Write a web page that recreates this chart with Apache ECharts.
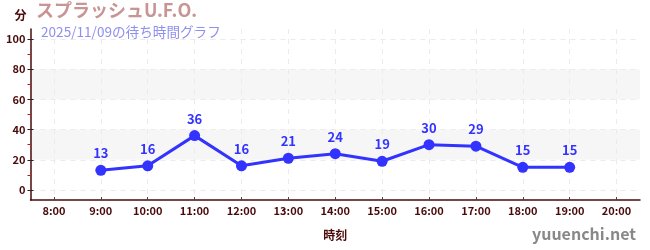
<!DOCTYPE html>
<html><head><meta charset="utf-8">
<script src="https://cdn.jsdelivr.net/npm/echarts@6/dist/echarts.min.js"></script>
<style>html,body{margin:0;padding:0;background:#fff}#c{width:650px;height:250px}</style>
</head><body><div id="c"></div>
<script>
const hours = ['8:00','9:00','10:00','11:00','12:00','13:00','14:00','15:00','16:00','17:00','18:00','19:00','20:00'];
const waits = [null,13,16,36,16,21,24,19,30,29,15,15,null];
const yMajor = [0,20,40,60,80,100];
const yMinor = [10,30,50,70,90];
const titleText = 'スプラッシュU.F.O.';
const subText = '2025/11/09の待ち時間グラフ';

const F = '"Noto Sans CJK JP", "Noto Sans", sans-serif';
const dark = '#4a0a0a';
const idx = hours.map((h,i)=>i);
const data = waits.map((v,i)=>[i,v]);
const xMin = -0.5, xMax = hours.length - 0.5;

const chart = echarts.init(document.getElementById('c'), null, {renderer:'canvas'});
const yBase = {type:'value', min:-20/3, max:320/3, position:'left', offset:0};
chart.setOption({
  animation:false,
  title:[
    {text:titleText, left:36, top:1, padding:0, textStyle:{fontFamily:F, fontSize:18, fontWeight:'bold', color:'#c89494'}},
    {text:subText, left:41, top:25, padding:0, textStyle:{fontFamily:F, fontSize:13.6, fontWeight:'normal', color:'#8f8ff0'}}
  ],
  graphic:[{type:'text', right:14, bottom:8, style:{text:'yuuenchi.net', fontFamily:F, fontSize:16, fill:'#888', fontWeight:'bold'}}],
  grid:{left:30.5, right:10, top:29, bottom:50},
  xAxis:{
    type:'value', min:xMin, max:xMax,
    name:'時刻', nameLocation:'middle', nameGap:29,
    nameTextStyle:{fontFamily:F, fontSize:12, fontWeight:'bold', color:dark},
    axisLine:{onZero:false, lineStyle:{color:dark, width:1.5}},
    axisTick:{show:true, customValues:idx, inside:true, length:3, lineStyle:{color:'#444'}},
    axisLabel:{customValues:idx, formatter:v=>hours[v], fontFamily:F, fontSize:11, fontWeight:'bold', color:dark, margin:5},
    splitLine:{show:true, lineStyle:{color:'#ebebeb', type:[5,5]}}
  },
  yAxis:[
    Object.assign({}, yBase, {
      name:'分', nameGap:8,
      nameTextStyle:{fontFamily:F, fontSize:12, fontWeight:'bold', color:dark, align:'right', padding:[0,4,0,0]},
      axisLine:{show:true, onZero:false, lineStyle:{color:dark, width:1.5}},
      axisTick:{show:true, customValues:yMajor, length:3, lineStyle:{color:'#222'}},
      axisLabel:{customValues:yMajor, fontFamily:F, fontSize:11, fontWeight:'bold', color:dark, margin:5},
      splitLine:{show:true, lineStyle:{color:'#ebebeb', type:[5,5]}},
      splitArea:{show:true, areaStyle:{color:['rgba(255,255,255,0)','rgba(0,0,0,0.035)']}}
    }),
    Object.assign({}, yBase, {
      axisLine:{show:false, onZero:false},
      axisTick:{show:true, inside:true, customValues:yMajor, length:3, lineStyle:{color:'#222'}},
      axisLabel:{show:false}, splitLine:{show:false}
    }),
    Object.assign({}, yBase, {
      axisLine:{show:false, onZero:false},
      axisTick:{show:true, customValues:yMinor, length:3, lineStyle:{color:'#d01010'}},
      axisLabel:{show:false}, splitLine:{show:false}
    })
  ],
  series:[{
    type:'line', data:data, yAxisIndex:0,
    symbol:'circle', symbolSize:11,
    itemStyle:{color:'#3333ff'},
    lineStyle:{color:'#3333ff', width:3},
    label:{show:true, position:'top', distance:5, fontFamily:F, fontSize:13, fontWeight:'bold', color:'#3333ff'},
    z:5
  }]
});
</script></body></html>
